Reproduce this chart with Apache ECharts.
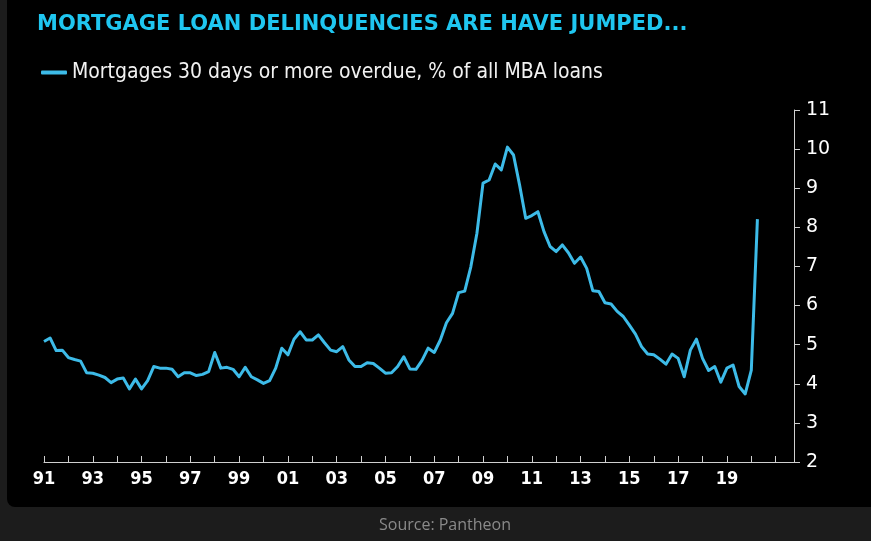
<!DOCTYPE html>
<html>
<head>
<meta charset="utf-8">
<script src="https://cdn.jsdelivr.net/npm/echarts@6/dist/echarts.min.js"></script>
<style>
html,body{margin:0;padding:0;background:#1c1c1c;width:871px;height:541px;overflow:hidden;}
#panel{position:absolute;left:7px;top:-8px;width:872px;height:515px;background:#000;border-radius:8px;}
#chart{position:absolute;left:0;top:0;width:871px;height:541px;}
</style>
</head>
<body>
<div id="panel"></div>
<div id="chart"></div>
<script>
// quarterly, 1991Q1 .. 2020Q2
var delinq = [
	5.08, 5.17, 4.85, 4.86,
	4.67, 4.62, 4.58, 4.28,
	4.27, 4.22, 4.16, 4.03,
	4.12, 4.15, 3.87, 4.12,
	3.87, 4.08, 4.44, 4.40,
	4.40, 4.37, 4.18, 4.28,
	4.28, 4.21, 4.24, 4.31,
	4.80, 4.40, 4.42, 4.37,
	4.18, 4.42, 4.18, 4.10,
	4.01, 4.08, 4.40, 4.91,
	4.74, 5.14, 5.33, 5.12,
	5.12, 5.25, 5.05, 4.86,
	4.82, 4.95, 4.61, 4.44,
	4.44, 4.54, 4.52, 4.40,
	4.27, 4.28, 4.44, 4.69,
	4.38, 4.37, 4.60, 4.91,
	4.80, 5.12, 5.56, 5.80,
	6.33, 6.37, 6.99, 7.85,
	9.13, 9.21, 9.62, 9.47,
	10.05, 9.85, 9.08, 8.23,
	8.30, 8.40, 7.89, 7.51,
	7.38, 7.55, 7.35, 7.08,
	7.24, 6.95, 6.38, 6.36,
	6.07, 6.04, 5.85, 5.72,
	5.50, 5.27, 4.95, 4.76,
	4.74, 4.63, 4.50, 4.76,
	4.65, 4.18, 4.86, 5.14,
	4.65, 4.34, 4.44, 4.04,
	4.40, 4.48, 3.93, 3.74,
	4.35, 8.21
];
var firstYear = 1991;
var lastYear = 2021;
var labelYears = ["91","93","95","97","99","01","03","05","07","09","11","13","15","17","19"];

// quarter categories 1991Q1 .. 2021Q4
var quarters = [];
for (var y = firstYear; y <= lastYear; y++) {
	for (var q = 1; q <= 4; q++) {
		quarters.push(y + "Q" + q);
	}
}

var myCharts = echarts.init(document.getElementById("chart"));
var option = {
	backgroundColor: "transparent",
	animation: false,
	title: [{
		text: "MORTGAGE LOAN DELINQUENCIES ARE HAVE JUMPED...",
		left: 32, top: 9,
		textStyle: { color: "#1fc6f0", fontSize: 21, fontWeight: "bold", fontFamily: "DejaVu Sans" }
	}, {
		text: "Source: Pantheon",
		left: 440, top: 512, textAlign: "center",
		textStyle: { color: "#8a8a8a", fontSize: 16, fontWeight: "normal", fontFamily: "Open Sans" }
	}],
	legend: {
		left: 36, top: 57,
		itemWidth: 26, itemHeight: 4, itemGap: 6,
		icon: "roundRect",
		textStyle: { color: "#f2f2f2", fontSize: 21, fontFamily: "DejaVu Sans Condensed" },
		data: ["Mortgages 30 days or more overdue, % of all MBA loans"]
	},
	grid: { left: 44, right: 77, top: 110, bottom: 79 },
	xAxis: {
		type: "category",
		data: quarters,
		boundaryGap: false,
		axisLine: { lineStyle: { color: "#d0d0d0", width: 1 } },
		axisTick: {
			length: 6, inside: true,
			interval: function(i) { return i % 4 === 0; },
			lineStyle: { color: "#d0d0d0" }
		},
		axisLabel: {
			color: "#ffffff", fontSize: 18, fontWeight: "bold", fontFamily: "DejaVu Sans Condensed", margin: 8,
			interval: function(i, v) {
				var yy = v.slice(2, 4);
				return i % 8 === 0 && labelYears.indexOf(yy) >= 0;
			},
			formatter: function(v) { return v.slice(2, 4); }
		},
		splitLine: { show: false }
	},
	yAxis: {
		type: "value",
		position: "right",
		min: 2, max: 11, interval: 1,
		axisLine: { show: true, lineStyle: { color: "#d0d0d0" } },
		axisTick: { show: true, length: 6, lineStyle: { color: "#d0d0d0" } },
		axisLabel: { color: "#ffffff", fontSize: 19, fontFamily: "DejaVu Sans", margin: 12 },
		splitLine: { show: false }
	},
	series: [{
		name: "Mortgages 30 days or more overdue, % of all MBA loans",
		type: "line",
		data: delinq,
		showSymbol: false,
		symbol: "none",
		itemStyle: { color: "#3dbbe8" },
		lineStyle: { color: "#3dbbe8", width: 3, join: "round" }
	}]
};
myCharts.setOption(option);
</script>
</body>
</html>
